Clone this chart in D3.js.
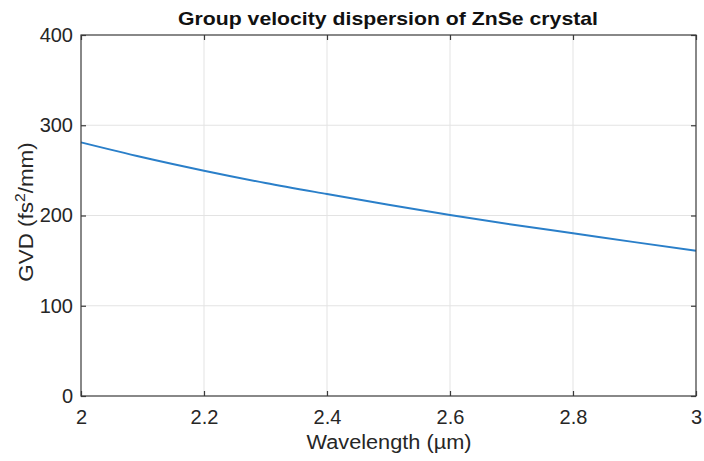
<!DOCTYPE html>
<html><head><meta charset="utf-8">
<script src="https://cdn.jsdelivr.net/npm/d3@7"></script>
<style>body{margin:0;background:#fff}svg{display:block;font-family:"Liberation Sans",Arial,Helvetica,sans-serif}</style>
</head><body>
<svg id="c" width="704" height="461"></svg>
<script>
const wavelength = [2.0, 2.1, 2.2, 2.3, 2.4, 2.5, 2.6, 2.7, 2.8, 2.9, 3.0];
const gvd = [281, 264.5, 249.6, 236, 223.8, 212, 200.6, 190, 180.3, 170.5, 161];
const xTicks = [2, 2.2, 2.4, 2.6, 2.8, 3];
const yTicks = [0, 100, 200, 300, 400];
const title = "Group velocity dispersion of ZnSe crystal";
const xLabel = "Wavelength (µm)";

const svg = d3.select("#c");
const L = 81, R = 696, T = 35, B = 396;
const x = d3.scaleLinear().domain([2, 3]).range([L, R]);
const y = d3.scaleLinear().domain([0, 400]).range([B, T]);

// grid
svg.append("g").selectAll("line").data(xTicks.slice(1, -1)).join("line")
  .attr("x1", d => x(d)).attr("x2", d => x(d)).attr("y1", T).attr("y2", B)
  .attr("stroke", "#e3e3e3").attr("stroke-width", 1);
svg.append("g").selectAll("line").data(yTicks.slice(1, -1)).join("line")
  .attr("y1", d => y(d)).attr("y2", d => y(d)).attr("x1", L).attr("x2", R)
  .attr("stroke", "#e3e3e3").attr("stroke-width", 1);

// line
svg.append("path").datum(wavelength.map((w, i) => [w, gvd[i]]))
  .attr("fill", "none").attr("stroke", "#2a7fc9").attr("stroke-width", 2)
  .attr("d", d3.line().x(d => x(d[0])).y(d => y(d[1])).curve(d3.curveMonotoneX));

// box
svg.append("rect").attr("x", L).attr("y", T).attr("width", R - L).attr("height", B - T)
  .attr("fill", "none").attr("stroke", "#3a3a3a").attr("stroke-width", 1.2);

// axes
const xb = svg.append("g").attr("transform", `translate(0,${B})`)
  .call(d3.axisBottom(x).tickValues(xTicks).tickFormat(d3.format("")).tickSizeInner(-5).tickSizeOuter(0).tickPadding(14));
const xt = svg.append("g").attr("transform", `translate(0,${T})`)
  .call(d3.axisTop(x).tickValues(xTicks).tickFormat("").tickSizeInner(-5).tickSizeOuter(0));
const yl = svg.append("g").attr("transform", `translate(${L},0)`)
  .call(d3.axisLeft(y).tickValues(yTicks).tickSizeInner(-5).tickSizeOuter(0).tickPadding(8));
const yr = svg.append("g").attr("transform", `translate(${R},0)`)
  .call(d3.axisRight(y).tickValues(yTicks).tickFormat("").tickSizeInner(-5).tickSizeOuter(0));
[xb, xt, yl, yr].forEach(g => {
  g.select(".domain").remove();
  g.selectAll(".tick line").attr("stroke", "#3a3a3a").attr("stroke-width", 1.2);
  g.selectAll(".tick text").attr("fill", "#262626").attr("font-size", 20)
    .attr("font-family", '"Liberation Sans",Arial,sans-serif');
});

// titles
svg.append("text").attr("x", 388).attr("y", 25).attr("text-anchor", "middle")
  .attr("font-size", 19).attr("font-weight", "bold").attr("fill", "#111")
  .attr("textLength", 420).attr("lengthAdjust", "spacingAndGlyphs").text(title);
svg.append("text").attr("x", 389).attr("y", 449).attr("text-anchor", "middle")
  .attr("font-size", 20).attr("fill", "#262626")
  .attr("textLength", 165).attr("lengthAdjust", "spacingAndGlyphs").text(xLabel);
const yt = svg.append("text").attr("transform", `translate(33,212) rotate(-90) scale(1.12,1)`)
  .attr("text-anchor", "middle").attr("font-size", 20).attr("fill", "#262626");
yt.append("tspan").text("GVD (fs");
yt.append("tspan").attr("font-size", 14).attr("dy", -8).text("2");
yt.append("tspan").attr("dy", 8).text("/mm)");
</script>
</body></html>
